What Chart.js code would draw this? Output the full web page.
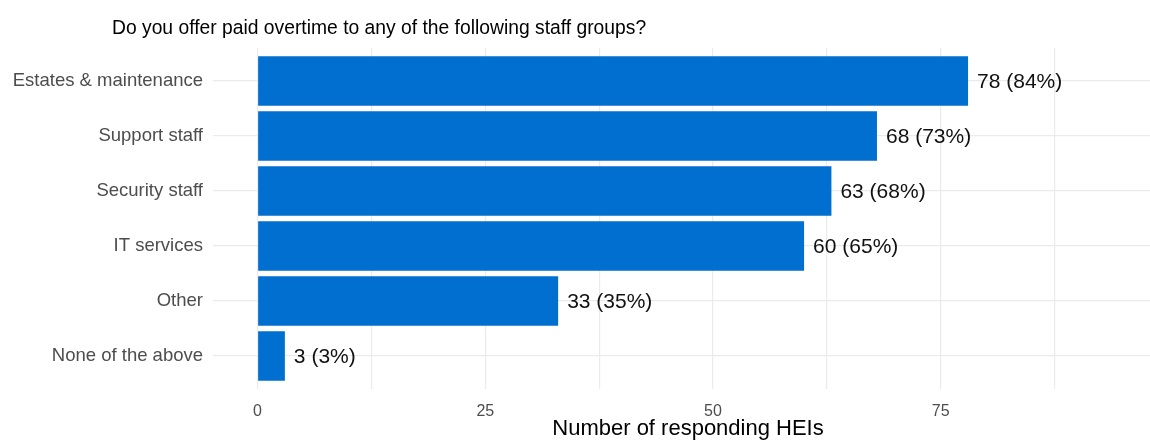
<!DOCTYPE html>
<html>
<head>
<meta charset="utf-8">
<title>Paid overtime by staff group</title>
<script src="https://cdn.jsdelivr.net/npm/chart.js@4.4.1/dist/chart.umd.min.js"></script>
<style>
  html, body { margin: 0; padding: 0; background: #fff; overflow: hidden; }
  /* the panel runs a little past the right edge of the page */
  #clip { width: 1150px; height: 443px; overflow: hidden; }
  #wrap { position: relative; width: 1163px; height: 443px; }
</style>
</head>
<body>
<div id="clip"><div id="wrap"><canvas id="overtimeChart"></canvas></div></div>
<script>
const chartTitle = 'Do you offer paid overtime to any of the following staff groups?';
const staffGroups = ['Estates & maintenance', 'Support staff', 'Security staff', 'IT services', 'Other', 'None of the above'];
const respondingHEIs = [78, 68, 63, 60, 33, 3];
const totalRespondents = 93;
const xTicks = [0, 12.5, 25, 37.5, 50, 62.5, 75, 87.5];
const xTickLabels = ['0', '', '25', '', '50', '', '75', ''];

const FONT = "'Liberation Sans', Arial, sans-serif";
const gridColor = '#ebebeb';

// title sits left of the panel, so draw it by hand
const titlePlugin = {
    id: 'plotTitle',
    afterDraw(chart) {
        const ctx = chart.ctx;
        ctx.save();
        ctx.font = '19.3px ' + FONT;
        ctx.fillStyle = '#000';
        ctx.textAlign = 'left';
        ctx.textBaseline = 'alphabetic';
        ctx.fillText(chartTitle, 112, 34);
        ctx.restore();
    }
};

// "n (pct%)" next to each bar end
const valueLabels = {
    id: 'valueLabels',
    afterDatasetsDraw(chart) {
        const ctx = chart.ctx;
        const meta = chart.getDatasetMeta(0);
        ctx.save();
        ctx.font = '21px ' + FONT;
        ctx.fillStyle = '#111';
        ctx.textAlign = 'left';
        ctx.textBaseline = 'middle';
        meta.data.forEach((bar, i) => {
            const v = respondingHEIs[i];
            const pct = Math.round(v / totalRespondents * 100);
            ctx.fillText(v + ' (' + pct + '%)', bar.x + 9, bar.y + 1);
        });
        ctx.restore();
    }
};

const ctx = document.getElementById('overtimeChart').getContext('2d');
const overtimeChart = new Chart(ctx, {
    type: 'bar',
    data: {
        datasets: [{
            data: respondingHEIs.map((v, i) => ({ x: v, y: i })),
            backgroundColor: '#006FCF',
            borderWidth: 0,
            categoryPercentage: 0.9,
            barPercentage: 1
        }]
    },
    options: {
        indexAxis: 'y',
        responsive: true,
        maintainAspectRatio: false,
        animation: false,
        layout: {
            padding: { top: 48, right: 0, bottom: 0, left: 0 }
        },
        plugins: {
            legend: { display: false },
            tooltip: { enabled: false }
        },
        scales: {
            x: {
                type: 'linear',
                min: -4.89,
                max: 99.4,
                afterBuildTicks: (scale) => {
                    scale.ticks = xTicks.map(v => ({ value: v }));
                },
                afterFit: (scale) => { scale.height = 54; },
                ticks: {
                    autoSkip: false,
                    maxRotation: 0,
                    padding: 13,
                    color: '#4d4d4d',
                    font: { family: FONT, size: 16 },
                    callback: (value, index) => xTickLabels[index]
                },
                grid: {
                    color: gridColor,
                    lineWidth: 1.2,
                    drawTicks: false
                },
                border: { display: false },
                title: {
                    display: true,
                    text: 'Number of responding HEIs',
                    color: '#000',
                    font: { family: FONT, size: 22, lineHeight: 1 },
                    padding: { top: 0, bottom: 3 }
                }
            },
            y: {
                type: 'linear',
                reverse: true,
                offset: false,
                min: -0.6,
                max: staffGroups.length - 0.4,
                afterBuildTicks: (scale) => {
                    scale.ticks = staffGroups.map((_, i) => ({ value: i }));
                },
                afterFit: (scale) => { scale.width = 213; },
                ticks: {
                    autoSkip: false,
                    padding: 10,
                    color: '#4d4d4d',
                    font: { family: FONT, size: 18.5 },
                    callback: (value) => staffGroups[value]
                },
                grid: {
                    offset: false,
                    color: gridColor,
                    lineWidth: 1.2,
                    drawTicks: false
                },
                border: { display: false }
            }
        }
    },
    plugins: [titlePlugin, valueLabels]
});
</script>
</body>
</html>
